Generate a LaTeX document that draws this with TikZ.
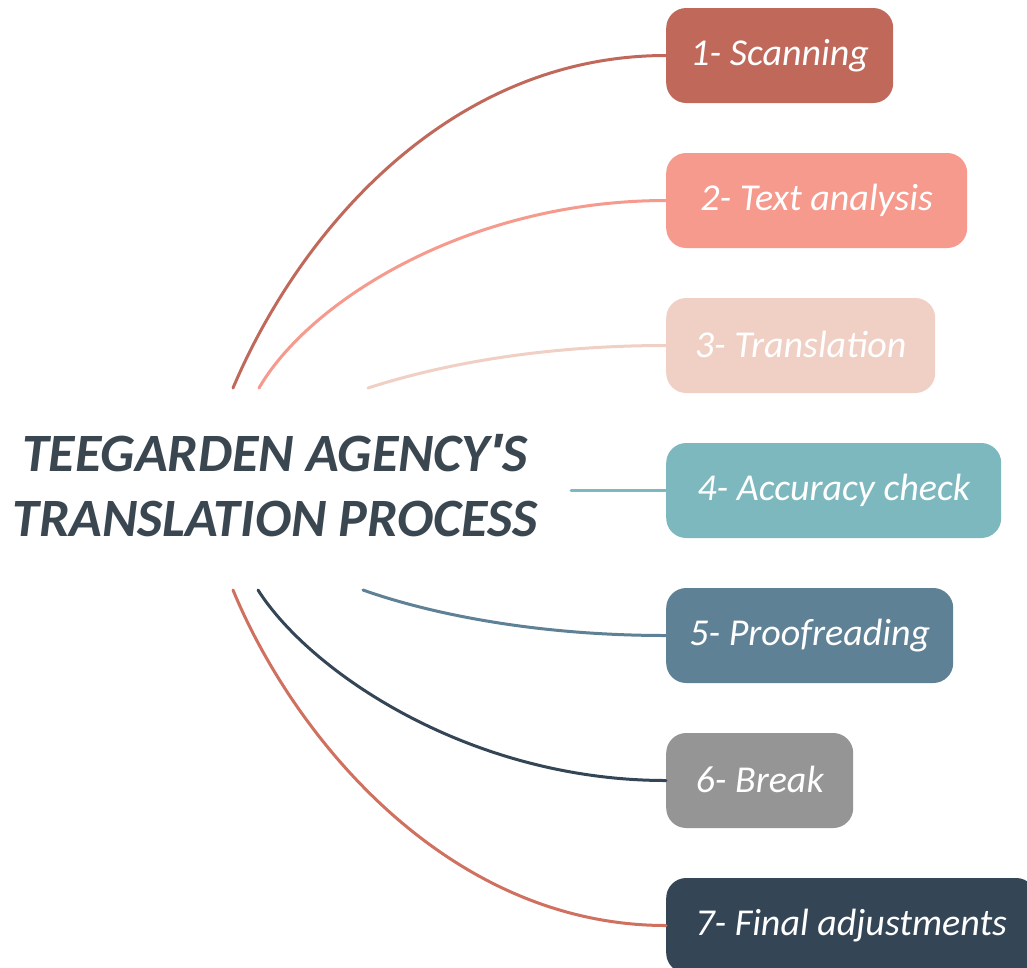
\documentclass[tikz,border=0pt]{standalone}
\usepackage{fontspec}
\setmainfont{Carlito}
\newfontfamily\plainquote{Liberation Sans}
\definecolor{cA}{HTML}{C0695A}
\definecolor{cB}{HTML}{F59A8C}
\definecolor{cC}{HTML}{F0D0C4}
\definecolor{cD}{HTML}{7DB8BF}
\definecolor{cE}{HTML}{5F8196}
\definecolor{cF}{HTML}{959595}
\definecolor{cG}{HTML}{344556}
\definecolor{cH}{HTML}{D0705F}
\definecolor{titlec}{HTML}{3A4750}
\tikzset{
  stepbox/.style={draw=none, rounded corners=20pt, anchor=west, minimum height=95pt,
    text=white, font=\fontsize{38}{44}\selectfont\itshape, inner sep=0pt},
  link/.style={line width=3pt, line cap=round},
}
\begin{document}
\begin{tikzpicture}[x=1pt, y=-1pt]
\useasboundingbox (0,0) rectangle (1027,967);
\clip (0,0) rectangle (1027,967);
\fill[white] (0,0) rectangle (1027,967);
% title
\node[text=titlec, font=\fontsize{54}{65}\selectfont\bfseries\itshape, align=center] (title) at (275,486)
  {TEEGARDEN AGENCY{\plainquote\symbol{39}}S\\TRANSLATION PROCESS};
% boxes
\node[stepbox, fill=cA, minimum width=227pt] (b1) at (666,55.5) {\raisebox{3pt}{1- Scanning}};
\node[stepbox, fill=cB, minimum width=301pt] (b2) at (666,200.5) {\raisebox{3pt}{2- Text analysis}};
\node[stepbox, fill=cC, minimum width=269pt] (b3) at (666,345.5) {\raisebox{3pt}{3- Translation}};
\node[stepbox, fill=cD, minimum width=335pt] (b4) at (666,490.5) {\raisebox{3pt}{4- Accuracy check}};
\node[stepbox, fill=cE, minimum width=287pt] (b5) at (666,635.5) {\raisebox{3pt}{5- Proofreading}};
\node[stepbox, fill=cF, minimum width=187pt] (b6) at (666,780.5) {\raisebox{3pt}{6- Break}};
\node[stepbox, fill=cG, minimum width=370pt] (b7) at (666,925.5) {\raisebox{3pt}{7- Final adjustments}};
% start points
\coordinate (s1) at (233,388);
\coordinate (s2) at (259,388);
\coordinate (s3) at (368,388);
\coordinate (s4) at (571,490.5);
\coordinate (s5) at (363,590);
\coordinate (s6) at (258,590);
\coordinate (s7) at (233,590);
% connectors
\draw[link, cA] (s1) .. controls (300,230) and (450,55.5) .. (b1.west);
\draw[link, cB] (s2) .. controls (310,300) and (470,200.5) .. (b2.west);
\draw[link, cC] (s3) .. controls (430,368) and (530,345.5) .. (b3.west);
\draw[link, cD] (s4) -- (b4.west);
\draw[link, cE] (s5) .. controls (425,612) and (530,635.5) .. (b5.west);
\draw[link, cG] (s6) .. controls (310,672) and (470,780.5) .. (b6.west);
\draw[link, cH] (s7) .. controls (295,740) and (450,925.5) .. (b7.west);
\end{tikzpicture}
\end{document}
